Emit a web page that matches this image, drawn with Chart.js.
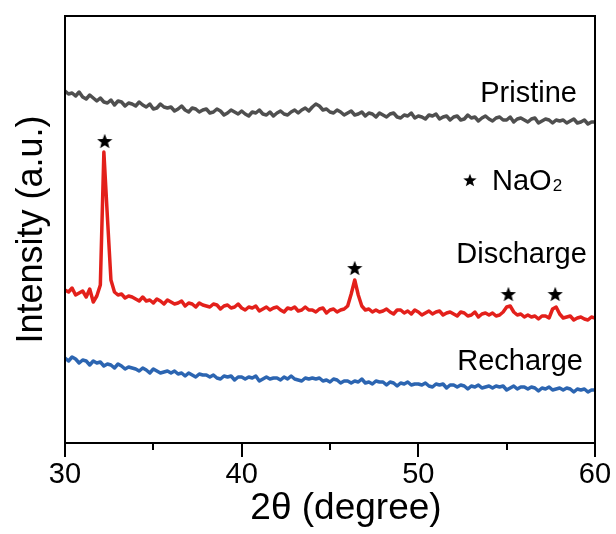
<!DOCTYPE html>
<html>
<head>
<meta charset="utf-8">
<script src="https://cdn.jsdelivr.net/npm/chart.js@4.4.1/dist/chart.umd.min.js"></script>
<style>
  html, body { margin: 0; padding: 0; background: #fff; }
</style>
</head>
<body>
<canvas id="xrd" width="616" height="534"></canvas>
<script>
// XRD scans, 2θ = 30° … 60°, step 0.2°
const scanStart = 30;
const scanStep = 0.2;

const pristine = [
  352, 349, 350, 347, 351, 346, 344, 348, 345, 342,
  345, 341, 340, 343, 338, 342, 341, 337, 340, 339,
  337, 341, 338, 336, 339, 334, 335, 339, 336, 335,
  336, 332, 334, 337, 333, 331, 335, 334, 331, 333,
  334, 330, 331, 334, 332, 328, 330, 333, 331, 329,
  332, 329, 327, 331, 330, 333, 329, 328, 331, 327,
  330, 332, 329, 328, 331, 333, 330, 333, 335, 332,
  336, 339, 337, 333, 334, 331, 330, 333, 331, 328,
  330, 332, 328, 329, 331, 327, 330, 329, 326, 330,
  328, 326, 329, 330, 326, 325, 328, 327, 330, 325,
  327, 326, 324, 328, 327, 329, 324, 326, 327, 323,
  326, 327, 323, 324, 328, 325, 326, 322, 325, 327,
  324, 322, 325, 326, 323, 323, 326, 321, 324, 325,
  323, 321, 324, 325, 320, 322, 324, 323, 320, 323,
  322, 323, 320, 322, 324, 320, 321, 323, 319, 321,
  321
];

const discharge = [
  153, 151, 155, 148, 150, 152, 146, 154, 141, 147,
  158, 291, 226, 163, 151, 148, 149, 145, 147, 146,
  144, 142, 146, 142, 143, 140, 144, 142, 139, 143,
  141, 139, 140, 142, 137, 140, 139, 136, 140, 138,
  137, 136, 139, 138, 134, 137, 138, 135, 136, 139,
  135, 133, 136, 135, 137, 132, 134, 136, 133, 135,
  136, 133, 131, 135, 134, 136, 132, 133, 136, 133,
  133, 131, 134, 135, 130, 133, 134, 131, 133, 134,
  137, 149, 163, 148, 137, 133, 134, 131, 133, 131,
  132, 134, 131, 129, 133, 133, 130, 132, 129, 133,
  131, 128, 130, 132, 129, 131, 132, 128, 130, 131,
  129, 127, 131, 130, 127, 128, 131, 126, 129, 130,
  128, 130, 127, 128, 131, 136, 137, 131, 128, 129,
  126, 128, 126, 127, 124, 127, 127, 125, 134, 136,
  129, 125, 126, 127, 123, 125, 126, 124, 123, 126,
  125
];

const recharge = [
  85, 82, 86, 84, 80, 83, 82, 78, 82, 80,
  81, 77, 79, 78, 75, 79, 77, 74, 76, 75,
  74, 72, 75, 73, 70, 74, 72, 70, 71, 72,
  70, 72, 69, 70, 67, 70, 68, 66, 69, 68,
  68, 66, 68, 65, 64, 67, 66, 67, 63, 66,
  66, 64, 66, 65, 67, 62, 64, 66, 64, 65,
  65, 63, 66, 64, 67, 64, 63, 62, 65, 64,
  65, 64, 65, 62, 63, 61, 64, 63, 60, 62,
  62, 60, 62, 61, 64, 60, 61, 59, 62, 61,
  61, 58, 61, 60, 57, 60, 59, 61, 58, 59,
  59, 58, 60, 57, 56, 59, 58, 59, 55, 58,
  58, 56, 58, 57, 54, 57, 56, 58, 55, 56,
  57, 55, 57, 56, 57, 53, 55, 57, 54, 56,
  56, 54, 56, 55, 52, 55, 54, 56, 53, 54,
  55, 53, 55, 54, 51, 54, 53, 54, 51, 53,
  53
];

// NaO2 reflections on the discharged electrode (star markers)
const naO2Angles = [32.25, 46.4, 55.1, 57.75];
const naO2Marks = [302, 175, 149, 149];

const xTicks = [30, 40, 50, 60];
const xMinorTicks = [35, 45, 55];

const twoTheta = pristine.map((_, i) => +(scanStart + i * scanStep).toFixed(1));
const toPoints = arr => arr.map((v, i) => ({ x: twoTheta[i], y: v }));

const FONT = '"Liberation Sans", Arial, Helvetica, sans-serif';
Chart.defaults.font.family = FONT;
Chart.defaults.color = '#000';

// filled five-point star used as point style
function starCanvas(size) {
  const c = document.createElement('canvas');
  c.width = c.height = size;
  const g = c.getContext('2d');
  const r = size / 2, ri = r * 0.42;
  g.beginPath();
  for (let k = 0; k < 10; k++) {
    const a = -Math.PI / 2 + k * Math.PI / 5;
    const rr = k % 2 ? ri : r;
    g.lineTo(r + rr * Math.cos(a), r + rr * Math.sin(a) + r * 0.1);
  }
  g.closePath();
  g.fillStyle = '#000';
  g.fill();
  return c;
}
const star = starCanvas(16);
const starSmall = starCanvas(14);

// trace names and the NaO2 key, placed in axis units
const traceLabels = [
  { text: 'Pristine', x: 58.98, y: 341 },
  { text: 'Discharge', x: 59.54, y: 180 },
  { text: 'Recharge', x: 59.32, y: 73 }
];
const keyLabel = { text: 'NaO', sub: '2', x: 54.17, y: 253 };
const keyStar = { x: 52.92, y: 263 };

const decor = {
  id: 'decor',
  afterDraw(chart) {
    const { ctx, chartArea: a, scales: { x, y } } = chart;
    ctx.save();
    ctx.strokeStyle = '#000';
    ctx.lineWidth = 2;
    ctx.strokeRect(a.left, a.top, a.right - a.left, a.bottom - a.top);

    ctx.beginPath();
    xMinorTicks.forEach(v => {
      const px = Math.round(x.getPixelForValue(v));
      ctx.moveTo(px, a.bottom);
      ctx.lineTo(px, a.bottom + 7);
    });
    ctx.stroke();

    ctx.fillStyle = '#000';
    ctx.textBaseline = 'alphabetic';
    ctx.font = '29px ' + FONT;
    ctx.textAlign = 'right';
    traceLabels.forEach(l => {
      ctx.fillText(l.text, x.getPixelForValue(l.x), y.getPixelForValue(l.y));
    });

    ctx.textAlign = 'left';
    const kx = x.getPixelForValue(keyLabel.x);
    const ky = y.getPixelForValue(keyLabel.y);
    ctx.fillText(keyLabel.text, kx, ky);
    const w = ctx.measureText(keyLabel.text).width;
    ctx.font = '17px ' + FONT;
    ctx.fillText(keyLabel.sub, kx + w + 1, ky + 1);

    // x axis title
    ctx.font = '37px ' + FONT;
    ctx.textAlign = 'center';
    ctx.textBaseline = 'middle';
    ctx.fillText('2θ (degree)', (a.left + a.right) / 2 + 16, 509);
    ctx.restore();
  }
};

new Chart(document.getElementById('xrd'), {
  type: 'line',
  data: {
    datasets: [
      { label: 'Pristine', data: toPoints(pristine), borderColor: '#4f4f4f', borderWidth: 3.5 },
      { label: 'Discharge', data: toPoints(discharge), borderColor: '#e3201b', borderWidth: 3.5 },
      { label: 'Recharge', data: toPoints(recharge), borderColor: '#2c65b1', borderWidth: 3.5 },
      {
        label: 'NaO2',
        data: naO2Angles.map((v, i) => ({ x: v, y: naO2Marks[i] })),
        showLine: false,
        pointStyle: star,
        pointRadius: 8
      },
      {
        label: 'key',
        data: [keyStar],
        showLine: false,
        pointStyle: starSmall,
        pointRadius: 7
      }
    ]
  },
  options: {
    responsive: false,
    animation: false,
    devicePixelRatio: 1,
    layout: { padding: { top: 16, right: 21, left: 0, bottom: 0 } },
    elements: { point: { radius: 0 }, line: { tension: 0, borderJoinStyle: 'round' } },
    plugins: { legend: { display: false }, tooltip: { enabled: false } },
    scales: {
      x: {
        type: 'linear',
        min: 30,
        max: 60,
        afterFit(s) { s.height = 91; },
        afterBuildTicks(s) { s.ticks = xTicks.map(v => ({ value: v })); },
        ticks: { font: { size: 29 }, color: '#000', padding: 1, maxRotation: 0, autoSkip: false },
        grid: { drawOnChartArea: false, tickLength: 14, color: '#000', lineWidth: 2 },
        border: { display: false }
      },
      y: {
        min: 0,
        max: 427,
        afterFit(s) { s.width = 65; },
        ticks: { display: false },
        grid: { display: false },
        border: { display: false },
        title: {
          display: true,
          text: 'Intensity (a.u.)',
          font: { size: 36 },
          color: '#000',
          padding: { top: 10, bottom: 0 }
        }
      }
    }
  },
  plugins: [decor]
});
</script>
</body>
</html>
